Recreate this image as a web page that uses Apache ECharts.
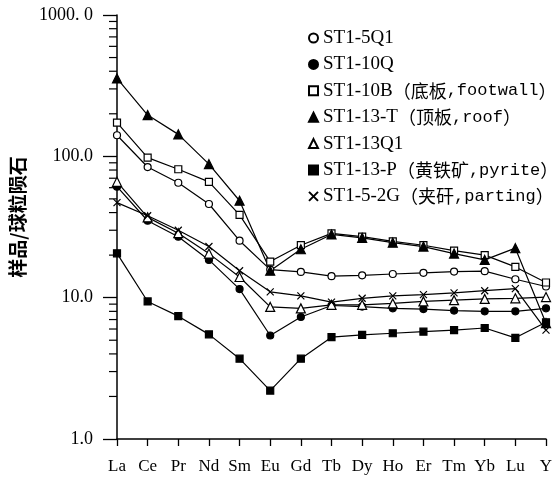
<!DOCTYPE html>
<html><head><meta charset="utf-8">
<script src="https://cdn.jsdelivr.net/npm/echarts@6/dist/echarts.min.js"></script>
<style>html,body{margin:0;padding:0;background:#fff}#c{width:556px;height:480px}</style>
</head><body><div id="c"></div>
<script>
const categories = ['La','Ce','Pr','Nd','Sm','Eu','Gd','Tb','Dy','Ho','Er','Tm','Yb','Lu','Y'];
const seriesNames = [
  'ST1-5Q1',
  'ST1-10Q',
  'ST1-10B（底板,footwall）',
  'ST1-13-T（顶板,roof）',
  'ST1-13Q1',
  'ST1-13-P（黄铁矿,pyrite）',
  'ST1-5-2G（夹矸,parting）'
];
const st1_5Q1  = [141, 84, 65, 46, 25.3, 15.8, 15.2, 14.2, 14.4, 14.7, 15.0, 15.3, 15.4, 13.5, 12.0];
const st1_10Q  = [61, 35, 27, 18.5, 11.5, 5.4, 7.3, 8.8, 8.65, 8.4, 8.3, 8.1, 8.0, 8.0, 8.4];
const st1_10B  = [173, 98, 81, 66, 38.5, 18, 23.5, 28.5, 27, 25, 23.5, 21.5, 20, 16.5, 12.8];
const st1_13T  = [356, 196, 143, 88, 48.5, 15.5, 22, 28, 26.5, 24.5, 23, 20.5, 18.5, 22.4, 6.6];
const st1_13Q1 = [66, 37, 28.6, 20.5, 14, 8.6, 8.4, 8.9, 8.9, 9.1, 9.4, 9.6, 9.8, 9.9, 10.1];
const st1_13P  = [20.6, 9.4, 7.4, 5.5, 3.7, 2.2, 3.7, 5.25, 5.45, 5.6, 5.75, 5.9, 6.1, 5.2, 6.7];
const st1_5_2G = [47, 38, 30, 23, 15.5, 11, 10.3, 9.3, 9.9, 10.3, 10.5, 10.8, 11.2, 11.6, 5.9];
const yTickValues = [1, 10, 100, 1000];
const yTickLabels = ['1.0', '10.0', '100.0', '1000. 0'];
const yAxisName = '样品/球粒陨石';

const allData = [st1_5Q1, st1_10Q, st1_10B, st1_13T, st1_13Q1, st1_13P, st1_5_2G];
const XPATH = 'path://M0,0L10,10M10,0L0,10';
const styles = [
  {symbol:'circle', size:7, open:true},
  {symbol:'circle', size:7, open:false},
  {symbol:'rect', size:7, open:true},
  {symbol:'triangle', size:9, open:false},
  {symbol:'triangle', size:9, open:true},
  {symbol:'rect', size:7, open:false},
  {symbol:XPATH, size:7, open:false}
];

// minor ticks of the log axis (2..9 of each decade)
const minorTicks = [];
for (let d = 1; d < 1000; d *= 10) for (let k = 2; k <= 9; k++) minorTicks.push([0, k * d]);

const series = allData.map((arr, i) => ({
  name: seriesNames[i],
  type: 'line',
  data: arr,
  symbol: styles[i].symbol,
  symbolSize: styles[i].size,
  lineStyle: {color:'#000', width:1.2},
  itemStyle: {
    color: styles[i].open ? '#fff' : '#000',
    borderColor: '#000',
    borderWidth: 1.2
  },
  emphasis: {disabled: true},
  z: 3
}));
series.push({
  type: 'custom',
  silent: true,
  clip: false,
  data: minorTicks,
  encode: {x: 0, y: 1},
  renderItem: (params, api) => {
    const p = api.coord([api.value(0), api.value(1)]);
    return {type:'line', shape:{x1:p[0]-8, y1:p[1], x2:p[0], y2:p[1]}, style:{stroke:'#000', lineWidth:1.2}};
  },
  z: 1
});

function fmt(name) {
  const m = name.match(/^([^（]+)（(.+),(.+)）$/);
  if (!m) return '{a|' + name + '}';
  return '{a|' + m[1] + '}{b|（' + m[2] + '}{c|,' + m[3] + '}{b|）}';
}

const chart = echarts.init(document.getElementById('c'));
chart.setOption({
  animation: false,
  backgroundColor: '#fff',
  grid: {left: 117, right: 10, top: 15, bottom: 41},
  legend: {
    orient: 'vertical', left: 303, top: 23,
    itemWidth: 9, itemHeight: 9, itemGap: 6.4,
    selectedMode: false,
    data: seriesNames.map((n, i) => ({name: n, icon: styles[i].symbol})),
    formatter: fmt,
    textStyle: {
      color: '#000', lineHeight: 20,
      rich: {
        a: {fontFamily: 'Liberation Serif', fontSize: 19, lineHeight: 20, color: '#000'},
        b: {fontFamily: 'Noto Sans CJK SC', fontSize: 18, lineHeight: 20, color: '#000'},
        c: {fontFamily: 'Liberation Mono', fontSize: 17, lineHeight: 20, color: '#000'}
      }
    }
  },
  xAxis: {
    type: 'category', data: categories, boundaryGap: false,
    axisLine: {lineStyle: {color: '#000', width: 1.5}},
    axisTick: {length: 7, lineStyle: {color: '#000', width: 1.3}},
    axisLabel: {color: '#000', fontFamily: 'Liberation Serif', fontSize: 17, margin: 19, interval: 0},
    splitLine: {show: false}
  },
  yAxis: {
    type: 'log', logBase: 10, min: 1, max: 1000, splitNumber: 3,
    name: yAxisName, nameLocation: 'middle', nameGap: 90, nameRotate: 90,
    nameTextStyle: {fontFamily: 'Noto Sans CJK SC', fontSize: 19, fontWeight: 'bold', color: '#000', padding: [0, 0, 0, 20]},
    axisLine: {show: true, lineStyle: {color: '#000', width: 1.5}},
    axisTick: {show: true, length: 14, lineStyle: {color: '#000', width: 1.3}},
    axisLabel: {
      color: '#000', fontFamily: 'Liberation Serif', fontSize: 18, margin: 24,
      formatter: v => {
        const i = yTickValues.findIndex(t => Math.abs(t - v) < 1e-6 * t);
        return i >= 0 ? yTickLabels[i] : '';
      }
    },
    splitLine: {show: false}
  },
  series: series
});
</script></body></html>
